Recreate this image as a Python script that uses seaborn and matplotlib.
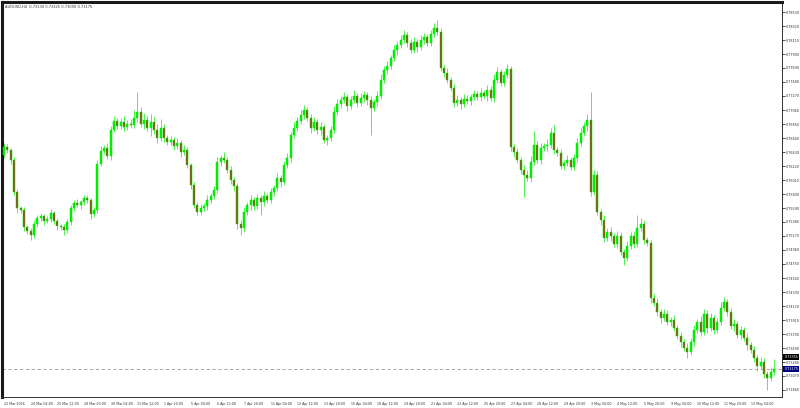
import numpy as np
import pandas as pd
import matplotlib
matplotlib.use('Agg')
import matplotlib.pyplot as plt
import seaborn as sns

# AUDUSD, H4 candles (22 Mar - 13 May 2016)
symbol = 'AUDUSD,H4'
first_open = 0.76385

close = [
    0.76505, 0.76460, 0.76310, 0.75830, 0.75590, 0.75560, 0.75305, 0.75245, 0.75185, 0.75350,
    0.75440, 0.75470, 0.75395, 0.75425, 0.75515, 0.75395, 0.75320, 0.75305, 0.75260, 0.75380,
    0.75590, 0.75665, 0.75635, 0.75680, 0.75740, 0.75710, 0.75500, 0.75560, 0.76250, 0.76445,
    0.76490, 0.76370, 0.76760, 0.76895, 0.76820, 0.76880, 0.76805, 0.76850, 0.76835, 0.76940,
    0.77030, 0.76850, 0.76910, 0.76790, 0.76880, 0.76760, 0.76640, 0.76790, 0.76640, 0.76580,
    0.76610, 0.76520, 0.76565, 0.76430, 0.76460, 0.76235, 0.75935, 0.75635, 0.75530, 0.75590,
    0.75620, 0.75710, 0.75770, 0.75860, 0.76280, 0.76340, 0.76310, 0.76160, 0.76010, 0.75920,
    0.75350, 0.75290, 0.75530, 0.75635, 0.75710, 0.75620, 0.75740, 0.75680, 0.75770, 0.75710,
    0.75830, 0.75890, 0.76040, 0.75980, 0.76235, 0.76340, 0.76685, 0.76790, 0.76895, 0.76985,
    0.77060, 0.76940, 0.76790, 0.76880, 0.76760, 0.76805, 0.76610, 0.76640, 0.76760, 0.77030,
    0.77150, 0.77210, 0.77255, 0.77120, 0.77210, 0.77270, 0.77165, 0.77240, 0.77285, 0.77210,
    0.77090, 0.77180, 0.77270, 0.77510, 0.77660, 0.77720, 0.77840, 0.77960, 0.78035, 0.78110,
    0.78185, 0.78065, 0.77960, 0.78080, 0.78005, 0.78110, 0.78155, 0.78065, 0.78200, 0.78290,
    0.78230, 0.77690, 0.77615, 0.77510, 0.77390, 0.77165, 0.77210, 0.77150, 0.77225, 0.77195,
    0.77255, 0.77300, 0.77255, 0.77315, 0.77270, 0.77360, 0.77240, 0.77510, 0.77630, 0.77465,
    0.77585, 0.77675, 0.76505, 0.76430, 0.76310, 0.76160, 0.76085, 0.76040, 0.76280, 0.76535,
    0.76310, 0.76490, 0.76520, 0.76535, 0.76715, 0.76460, 0.76415, 0.76220, 0.76265, 0.76310,
    0.76205, 0.76340, 0.76565, 0.76715, 0.76820, 0.76910, 0.75830, 0.76085, 0.75530, 0.75410,
    0.75140, 0.75230, 0.75170, 0.75050, 0.75170, 0.74930, 0.74840, 0.75020, 0.75170, 0.75050,
    0.75290, 0.75350, 0.75110, 0.75065, 0.74240, 0.74165, 0.74030, 0.73940, 0.74000, 0.73880,
    0.73910, 0.73790, 0.73670, 0.73580, 0.73490, 0.73430, 0.73580, 0.73760, 0.73880, 0.73730,
    0.74000, 0.73790, 0.73940, 0.73760, 0.73880, 0.74090, 0.74180, 0.74030, 0.73820, 0.73850,
    0.73685, 0.73760, 0.73640, 0.73535, 0.73460, 0.73340, 0.73220, 0.73280, 0.73100, 0.73040,
    0.73130, 0.73175,
]

# wick lengths in pips above / below the body
wick_up = [
    6, 4, 3, 5, 4, 3, 4, 3, 5, 6,
    4, 5, 3, 4, 6, 3, 4, 3, 5, 4,
    5, 4, 6, 3, 5, 4, 3, 4, 6, 8,
    5, 7, 6, 8, 5, 6, 9, 6, 7, 12,
    30, 8, 10, 6, 12, 7, 9, 14, 6, 5,
    6, 4, 7, 5, 8, 4, 3, 5, 4, 6,
    5, 7, 4, 6, 8, 5, 9, 4, 6, 5,
    4, 6, 8, 5, 7, 5, 6, 4, 7, 5,
    6, 5, 8, 4, 6, 7, 5, 9, 6, 8,
    7, 5, 6, 8, 5, 7, 4, 5, 6, 9,
    7, 6, 8, 5, 6, 9, 5, 7, 6, 5,
    6, 5, 7, 9, 6, 8, 5, 7, 6, 8,
    7, 5, 6, 8, 5, 7, 6, 5, 6, 8,
    12, 6, 5, 7, 5, 6, 8, 5, 7, 6,
    5, 6, 4, 7, 5, 8, 6, 9, 7, 5,
    6, 8, 5, 4, 6, 5, 7, 8, 9, 21,
    6, 7, 5, 9, 8, 12, 5, 6, 4, 7,
    5, 6, 8, 7, 6, 9, 42, 8, 6, 5,
    7, 6, 8, 5, 7, 6, 5, 8, 6, 7,
    20, 9, 6, 5, 4, 6, 8, 5, 7, 6,
    5, 7, 4, 6, 5, 7, 6, 8, 5, 9,
    8, 6, 7, 5, 6, 9, 8, 5, 6, 7,
    5, 6, 4, 7, 5, 6, 5, 7, 6, 5,
    8, 15,
]
wick_down = [
    5, 4, 6, 5, 7, 4, 6, 5, 8, 4,
    5, 4, 6, 3, 5, 4, 6, 5, 7, 4,
    4, 5, 3, 6, 4, 5, 7, 5, 4, 3,
    5, 4, 6, 3, 5, 4, 6, 5, 4, 5,
    6, 4, 8, 5, 12, 6, 7, 5, 6, 4,
    5, 6, 4, 7, 5, 4, 6, 5, 4, 5,
    4, 6, 5, 4, 5, 6, 4, 5, 6, 7,
    8, 10, 6, 5, 7, 6, 5, 20, 6, 5,
    4, 6, 5, 7, 5, 4, 6, 5, 4, 5,
    6, 4, 7, 5, 6, 8, 5, 7, 4, 5,
    4, 6, 5, 7, 5, 4, 6, 5, 6, 7,
    40, 5, 6, 4, 5, 6, 4, 5, 7, 5,
    5, 6, 4, 5, 7, 4, 6, 5, 4, 5,
    5, 4, 6, 5, 4, 6, 5, 7, 4, 5,
    6, 4, 5, 6, 4, 7, 5, 6, 4, 5,
    4, 5, 6, 8, 5, 6, 33, 5, 6, 4,
    5, 6, 4, 7, 5, 6, 4, 5, 6, 4,
    5, 4, 6, 5, 4, 7, 6, 5, 4, 8,
    6, 5, 7, 4, 6, 5, 10, 4, 5, 6,
    4, 5, 6, 5, 7, 5, 6, 8, 5, 4,
    6, 5, 4, 7, 5, 9, 4, 6, 5, 6,
    5, 7, 4, 6, 5, 4, 5, 6, 5, 7,
    4, 6, 5, 7, 5, 6, 8, 5, 6, 18,
    5, 4,
]

x_labels = [
    '22 Mar 2016', '24 Mar 04:00', '25 Mar 12:00', '28 Mar 20:00', '30 Mar 04:00',
    '31 Mar 12:00', '1 Apr 20:00', '5 Apr 04:00', '6 Apr 12:00', '7 Apr 20:00',
    '11 Apr 04:00', '12 Apr 12:00', '13 Apr 20:00', '15 Apr 04:00', '18 Apr 12:00',
    '19 Apr 20:00', '21 Apr 04:00', '22 Apr 12:00', '25 Apr 20:00', '27 Apr 04:00',
    '28 Apr 12:00', '29 Apr 20:00', '3 May 04:00', '4 May 12:00', '5 May 20:00',
    '9 May 04:00', '10 May 12:00', '11 May 20:00', '13 May 04:00',
]
y_ticks = [
    0.72860, 0.73070, 0.73280, 0.73490, 0.73700, 0.73910, 0.74120, 0.74330, 0.74540, 0.74750,
    0.74960, 0.75170, 0.75380, 0.75590, 0.75800, 0.76010, 0.76220, 0.76430, 0.76640, 0.76850,
    0.77060, 0.77270, 0.77480, 0.77690, 0.77900, 0.78110, 0.78320, 0.78530,
]
marker_price = 0.73355

pip = 0.0001
df = pd.DataFrame({'close': close})
df['open'] = df['close'].shift(1).fillna(first_open)
df['high'] = df[['open', 'close']].max(axis=1) + np.array(wick_up) * pip
df['low'] = df[['open', 'close']].min(axis=1) - np.array(wick_down) * pip
df['bull'] = df['close'] >= df['open']
idx = np.arange(len(df))

sns.set_style('white')
plt.rcParams['font.family'] = ['DejaVu Sans']

lime = '#00ee00'
fig = plt.figure(figsize=(8, 4.08), dpi=100)
ax = fig.add_axes([2 / 800, 11 / 408, 780 / 800, 395 / 408])

ax.vlines(idx, df['low'], df['high'], color='#33f033', lw=0.6, zorder=2)
body = (df['close'] - df['open']).abs().clip(lower=0.00003)
bottom = df[['open', 'close']].min(axis=1)
colors = np.where(df['bull'], lime, '#a0401e')
ax.bar(idx, body, bottom=bottom, width=0.62, color=colors,
       edgecolor=lime, linewidth=0.35, zorder=3)

ax.set_xlim(-0.6, 233.4)
ax.set_ylim(0.72755, 0.78680)

last = df['close'].iloc[-1]
ax.axhline(last, color='#9a9a9a', ls=(0, (4, 3)), lw=0.6, zorder=1)

# axes / ticks
for s in ['left', 'top']:
    ax.spines[s].set_color('#1a1a1a')
    ax.spines[s].set_linewidth(2.2)
for s in ['right', 'bottom']:
    ax.spines[s].set_color('#333333')
    ax.spines[s].set_linewidth(0.7)

ax.yaxis.tick_right()
ax.set_yticks(y_ticks)
ax.set_yticklabels([f'{v:.5f}' for v in y_ticks])
ax.set_xticks(np.arange(0, len(df), 8)[:len(x_labels)])
ax.set_xticklabels(x_labels)
plt.setp(ax.get_xticklabels(), ha='left')
ax.tick_params(axis='y', direction='out', length=2.0, width=0.6, labelsize=2.4,
               pad=1.0, colors='#333333')
ax.tick_params(axis='x', direction='out', length=2.5, width=0.6, labelsize=2.3,
               pad=1.2, colors='#333333')
ax.grid(False)

lbl = dict(transform=ax.get_yaxis_transform(), fontsize=2.4, color='white',
           va='center', ha='left', clip_on=False)
ax.text(1.003, last, f'{last:.5f}',
        bbox=dict(boxstyle='square,pad=0.3', fc='#000080', ec='none'), **lbl)
ax.text(1.003, marker_price, f'{marker_price:.5f}',
        bbox=dict(boxstyle='square,pad=0.3', fc='black', ec='none'), **lbl)

o, h, l, c = df[['open', 'high', 'low', 'close']].iloc[-1]
fig.text(5 / 800, 1 - 7 / 408, f'{symbol}  {o:.5f} {h:.5f} {l:.5f} {c:.5f}',
         fontsize=2.6, color='#333333', va='center', ha='left')

fig.savefig('out.png', dpi=100)
